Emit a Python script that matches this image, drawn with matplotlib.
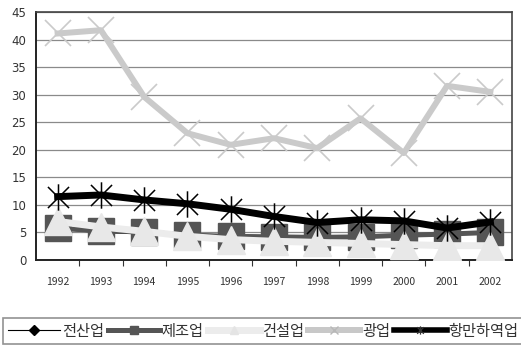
import matplotlib
matplotlib.use("Agg")
import matplotlib.pyplot as plt
from matplotlib.path import Path
from matplotlib.lines import Line2D
import numpy as np

plt.rcParams['font.family'] = ['Noto Sans CJK KR', 'DejaVu Sans']

years = ['1992', '1993', '1994', '1995', '1996', '1997', '1998', '1999', '2000', '2001', '2002']
all_industry = [5.5, 5.0, 4.7, 4.8, 4.5, 4.4, 4.2, 4.3, 4.5, 4.6, 4.7]      # 전산업
manufacturing = [5.8, 5.3, 5.1, 4.5, 4.3, 4.2, 4.1, 4.2, 4.5, 4.7, 5.0]     # 제조업
construction = [7.0, 6.0, 5.2, 4.3, 3.7, 3.4, 3.2, 3.0, 2.8, 2.6, 2.6]      # 건설업
mining = [41.1, 41.7, 29.6, 23.0, 20.9, 22.1, 20.3, 25.7, 19.4, 31.6, 30.5]  # 광업
stevedoring = [11.5, 11.8, 10.9, 10.2, 9.2, 7.9, 6.8, 7.3, 7.1, 5.8, 6.9]   # 항만하역업
names = ['전산업', '제조업', '건설업', '광업', '항만하역업']

W, H = 521, 346
fig = plt.figure(figsize=(W / 100, H / 100), dpi=100)
ax = fig.add_axes([36 / W, (H - 260) / H, (512 - 36) / W, (260 - 12) / H])

x = np.arange(len(years))

asterisk = Path([(-1, -1), (1, 1), (-1, 1), (1, -1), (0, -1.25), (0, 1.25)],
                [Path.MOVETO, Path.LINETO, Path.MOVETO, Path.LINETO, Path.MOVETO, Path.LINETO])

ax.plot(x, all_industry, color='black', lw=0.8, marker='D', ms=6, mfc='black', mec='black', zorder=3)
ax.plot(x, manufacturing, color='#555555', lw=3.6, marker='s', ms=19, mfc='#555555', mec='#555555', zorder=4)
ax.plot(x, construction, color='#ececec', lw=5, marker='^', ms=20, mfc='#e8e8e8', mec='#e8e8e8', zorder=5)
ax.plot(x, mining, color='#cacaca', lw=4.3, marker='x', ms=19, mec='#cacaca', mew=1.2, zorder=6)
ax.plot(x, stevedoring, color='black', lw=5, marker=asterisk, ms=19, mec='black', mfc='none', mew=1.1, zorder=7)

ax.set_xlim(-0.5, len(years) - 0.5)
ax.set_ylim(0, 45)
ax.set_yticks(np.arange(0, 46, 5))
ax.yaxis.grid(True, color='#8a8a8a', lw=0.9)
ax.set_axisbelow(True)

ax.set_xticks(x)
ax.set_xticklabels(years)
ax.set_xticks(np.arange(0.5, len(years) - 1, 1), minor=True)
ax.tick_params(axis='x', which='major', length=0, pad=12, labelsize=7.5, labelcolor='#333333')
ax.tick_params(axis='x', which='minor', length=4, width=0.8, direction='out', color='#333333')
ax.tick_params(axis='y', length=0, pad=7, labelsize=8.5, labelcolor='#333333')
for lab in ax.get_yticklabels():
    lab.set_family('DejaVu Sans')

for side in ['left', 'bottom']:
    ax.spines[side].set_color('#222222')
    ax.spines[side].set_linewidth(1.4)
for side in ['top', 'right']:
    ax.spines[side].set_color('#444444')
    ax.spines[side].set_linewidth(1.2)

handles = [
    Line2D([], [], color='black', lw=0.8, marker='D', ms=5, mfc='black', mec='black'),
    Line2D([], [], color='#555555', lw=3.6, marker='s', ms=6, mfc='#555555', mec='#555555'),
    Line2D([], [], color='#ececec', lw=5, marker='^', ms=6, mfc='#e4e4e4', mec='#e4e4e4'),
    Line2D([], [], color='#c8c8c8', lw=4.3, marker='x', ms=6, mec='#b8b8b8', mew=1),
    Line2D([], [], color='black', lw=4, marker=asterisk, ms=6, mec='#333333', mew=0.9),
]
leg = fig.legend(handles, names, loc='upper left', bbox_to_anchor=(3 / W, 1 - 318 / H),
                 ncol=5, fontsize=11, handlelength=3.45, handletextpad=0.1, columnspacing=0.25,
                 borderpad=0.3, borderaxespad=0, frameon=True, fancybox=False)
leg.get_frame().set_edgecolor('#777777')
leg.get_frame().set_linewidth(1.2)
for t in leg.get_texts():
    t.set_color('#333333')

fig.savefig('out.png', dpi=100)
